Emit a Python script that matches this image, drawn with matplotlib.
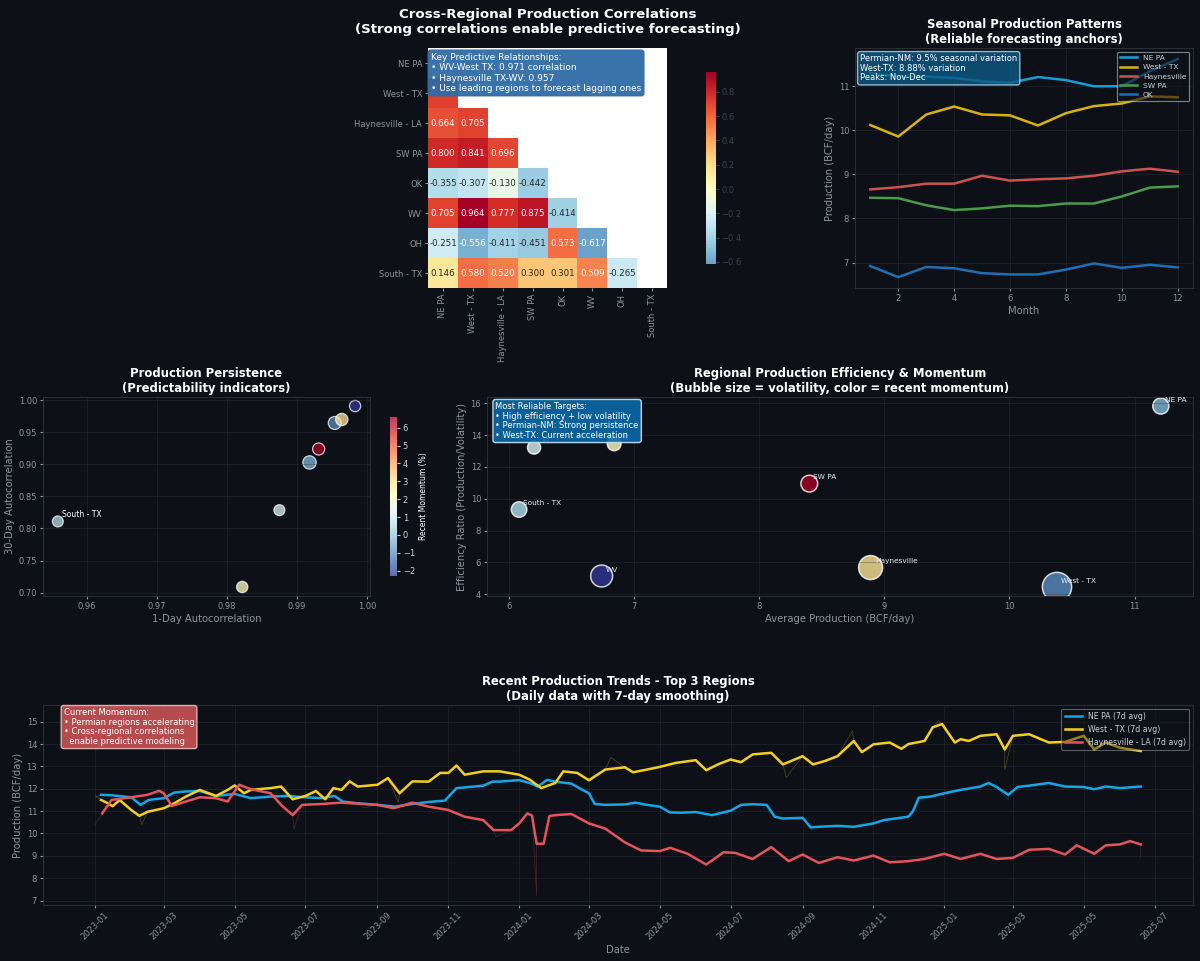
import numpy as np
import pandas as pd
import matplotlib
matplotlib.use('Agg')
import matplotlib.pyplot as plt
import matplotlib.dates as mdates
from matplotlib.colors import ListedColormap

# ---------------- data ----------------
regions = ['NE PA', 'West - TX', 'Haynesville - LA', 'SW PA', 'OK', 'WV', 'OH', 'South - TX']
corr_lower = [
    [],
    [0.721],
    [0.664, 0.705],
    [0.800, 0.841, 0.696],
    [-0.355, -0.307, -0.130, -0.442],
    [0.705, 0.964, 0.777, 0.875, -0.414],
    [-0.251, -0.556, -0.411, -0.451, 0.573, -0.617],
    [0.146, 0.580, 0.520, 0.300, 0.301, 0.509, -0.265],
]

months = list(range(1, 13))
season_nepa = [11.30, 11.22, 11.22, 11.19, 11.11, 11.08, 11.21, 11.14, 11.00, 11.00, 11.34, 11.62]
season_wtx = [10.12, 9.86, 10.36, 10.54, 10.36, 10.34, 10.11, 10.39, 10.55, 10.61, 10.77, 10.75]
season_hay = [8.66, 8.71, 8.79, 8.79, 8.97, 8.86, 8.89, 8.91, 8.97, 9.07, 9.13, 9.06]
season_swpa = [8.47, 8.46, 8.30, 8.19, 8.23, 8.29, 8.28, 8.34, 8.34, 8.50, 8.70, 8.73]
season_ok = [6.92, 6.67, 6.90, 6.87, 6.76, 6.73, 6.73, 6.84, 6.98, 6.88, 6.95, 6.89]

# per region, same order as regions
ac_1day = [0.9918, 0.9954, 0.9964, 0.9931, 0.9822, 0.9983, 0.9875, 0.9559]
ac_30day = [0.903, 0.9646, 0.970, 0.924, 0.7088, 0.991, 0.8286, 0.811]
momentum = [-0.3, -1.0, 2.9, 6.6, 2.2, -2.3, 1.2, 0.5]
avg_prod = [11.21, 10.38, 8.89, 8.40, 6.84, 6.74, 6.20, 6.08]
eff_ratio = [15.83, 4.45, 5.67, 10.95, 13.45, 5.14, 13.22, 9.32]
eff_labels = ['NE PA', 'West - TX', 'Haynesville', 'SW PA', 'OK', 'WV', 'OH', 'South - TX']

nepa_7d = [
    ('2023-01-06', 11.73), ('2023-01-15', 11.71), ('2023-02-01', 11.62), ('2023-02-09', 11.28),
    ('2023-02-16', 11.50), ('2023-03-01', 11.58), ('2023-03-10', 11.83), ('2023-03-20', 11.88),
    ('2023-04-01', 11.90), ('2023-04-15', 11.68), ('2023-05-01', 11.77), ('2023-05-15', 11.58),
    ('2023-06-01', 11.65), ('2023-06-15', 11.68), ('2023-07-01', 11.62), ('2023-07-15', 11.58),
    ('2023-07-26', 11.68), ('2023-08-02', 11.43), ('2023-08-15', 11.35), ('2023-09-01', 11.28),
    ('2023-09-16', 11.20), ('2023-10-01', 11.32), ('2023-10-15', 11.41), ('2023-10-29', 11.47),
    ('2023-11-08', 12.03), ('2023-11-15', 12.06), ('2023-12-01', 12.14), ('2023-12-09', 12.32),
    ('2023-12-15', 12.32), ('2024-01-01', 12.39), ('2024-01-10', 12.26), ('2024-01-17', 12.10),
    ('2024-01-25', 12.40), ('2024-02-01', 12.32), ('2024-02-15', 12.23), ('2024-02-22', 12.02),
    ('2024-03-01', 11.80), ('2024-03-06', 11.32), ('2024-03-15', 11.28), ('2024-04-01', 11.30),
    ('2024-04-10', 11.38), ('2024-04-20', 11.28), ('2024-05-01', 11.20), ('2024-05-10', 10.94),
    ('2024-05-20', 10.93), ('2024-06-01', 10.96), ('2024-06-15', 10.82), ('2024-07-01', 11.02),
    ('2024-07-10', 11.28), ('2024-07-20', 11.31), ('2024-08-01', 11.28), ('2024-08-08', 10.75),
    ('2024-08-15', 10.67), ('2024-09-01', 10.70), ('2024-09-08', 10.27), ('2024-09-15', 10.30),
    ('2024-10-01', 10.34), ('2024-10-15', 10.30), ('2024-11-01', 10.45), ('2024-11-10', 10.60),
    ('2024-11-20', 10.67), ('2024-12-01', 10.75), ('2024-12-05', 11.00), ('2024-12-10', 11.60),
    ('2024-12-20', 11.65), ('2025-01-01', 11.80), ('2025-01-15', 11.95), ('2025-02-01', 12.10),
    ('2025-02-08', 12.26), ('2025-02-15', 12.08), ('2025-02-25', 11.73), ('2025-03-05', 12.08),
    ('2025-03-15', 12.14), ('2025-04-01', 12.26), ('2025-04-15', 12.10), ('2025-05-01', 12.08),
    ('2025-05-10', 11.98), ('2025-05-20', 12.10), ('2025-06-01', 12.03), ('2025-06-19', 12.10),
]
wtx_7d = [
    ('2023-01-06', 11.50), ('2023-01-12', 11.35), ('2023-01-16', 11.22), ('2023-01-22', 11.50),
    ('2023-02-01', 11.05), ('2023-02-08', 10.79), ('2023-02-15', 10.97), ('2023-03-01', 11.13),
    ('2023-03-10', 11.35), ('2023-03-20', 11.65), ('2023-04-01', 11.95), ('2023-04-15', 11.68),
    ('2023-04-25', 11.95), ('2023-05-01', 12.15), ('2023-05-09', 11.80), ('2023-05-15', 11.95),
    ('2023-06-01', 12.03), ('2023-06-10', 12.10), ('2023-06-20', 11.53), ('2023-07-01', 11.68),
    ('2023-07-10', 11.90), ('2023-07-18', 11.53), ('2023-07-25', 12.03), ('2023-08-01', 11.95),
    ('2023-08-08', 12.33), ('2023-08-15', 12.10), ('2023-09-01', 12.18), ('2023-09-10', 12.48),
    ('2023-09-20', 11.80), ('2023-10-01', 12.33), ('2023-10-15', 12.32), ('2023-10-25', 12.71),
    ('2023-11-01', 12.71), ('2023-11-08', 13.04), ('2023-11-15', 12.63), ('2023-12-01', 12.78),
    ('2023-12-15', 12.78), ('2024-01-01', 12.63), ('2024-01-10', 12.41), ('2024-01-20', 12.03),
    ('2024-02-01', 12.26), ('2024-02-08', 12.78), ('2024-02-20', 12.71), ('2024-03-01', 12.38),
    ('2024-03-15', 12.86), ('2024-04-01', 12.96), ('2024-04-08', 12.74), ('2024-04-20', 12.86),
    ('2024-05-01', 12.98), ('2024-05-15', 13.16), ('2024-06-01', 13.28), ('2024-06-10', 12.83),
    ('2024-06-20', 13.09), ('2024-07-01', 13.31), ('2024-07-10', 13.19), ('2024-07-20', 13.54),
    ('2024-08-05', 13.61), ('2024-08-15', 13.09), ('2024-09-01', 13.46), ('2024-09-10', 13.09),
    ('2024-09-20', 13.24), ('2024-10-01', 13.46), ('2024-10-15', 14.14), ('2024-10-22', 13.64),
    ('2024-11-01', 13.99), ('2024-11-15', 14.07), ('2024-11-25', 13.79), ('2024-12-01', 14.00),
    ('2024-12-15', 14.14), ('2024-12-22', 14.75), ('2024-12-30', 14.90), ('2025-01-10', 14.07),
    ('2025-01-15', 14.22), ('2025-01-22', 14.14), ('2025-02-01', 14.37), ('2025-02-15', 14.44),
    ('2025-02-22', 13.76), ('2025-03-01', 14.37), ('2025-03-15', 14.44), ('2025-04-01', 14.07),
    ('2025-04-15', 14.10), ('2025-05-01', 14.37), ('2025-05-10', 13.76), ('2025-05-20', 14.07),
    ('2025-06-01', 13.84), ('2025-06-19', 13.69),
]
hay_7d = [
    ('2023-01-07', 10.90), ('2023-01-15', 11.50), ('2023-02-01', 11.62), ('2023-02-15', 11.73),
    ('2023-02-25', 11.91), ('2023-03-01', 11.80), ('2023-03-08', 11.23), ('2023-03-20', 11.43),
    ('2023-04-01', 11.62), ('2023-04-15', 11.58), ('2023-04-25', 11.43), ('2023-05-05', 12.18),
    ('2023-05-15', 11.98), ('2023-06-01', 11.80), ('2023-06-10', 11.28), ('2023-06-20', 10.82),
    ('2023-06-28', 11.28), ('2023-07-15', 11.32), ('2023-08-01', 11.38), ('2023-09-01', 11.28),
    ('2023-09-15', 11.13), ('2023-10-01', 11.38), ('2023-10-15', 11.20), ('2023-11-01', 11.05),
    ('2023-11-15', 10.75), ('2023-12-01', 10.60), ('2023-12-10', 10.15), ('2023-12-25', 10.15),
    ('2024-01-01', 10.45), ('2024-01-08', 10.90), ('2024-01-12', 10.80), ('2024-01-16', 9.54),
    ('2024-01-22', 9.54), ('2024-01-27', 10.78), ('2024-02-01', 10.82), ('2024-02-15', 10.87),
    ('2024-03-01', 10.45), ('2024-03-15', 10.22), ('2024-04-01', 9.60), ('2024-04-15', 9.24),
    ('2024-05-01', 9.21), ('2024-05-10', 9.36), ('2024-05-25', 9.09), ('2024-06-10', 8.61),
    ('2024-06-25', 9.16), ('2024-07-05', 9.13), ('2024-07-20', 8.86), ('2024-08-05', 9.39),
    ('2024-08-20', 8.76), ('2024-09-01', 9.06), ('2024-09-15', 8.68), ('2024-10-01', 8.94),
    ('2024-10-15', 8.79), ('2024-11-01', 9.01), ('2024-11-15', 8.71), ('2024-12-01', 8.76),
    ('2024-12-15', 8.86), ('2025-01-01', 9.09), ('2025-01-15', 8.86), ('2025-02-01', 9.09),
    ('2025-02-15', 8.86), ('2025-03-01', 8.91), ('2025-03-15', 9.27), ('2025-04-01', 9.31),
    ('2025-04-15', 9.06), ('2025-04-25', 9.47), ('2025-05-10', 9.09), ('2025-05-20', 9.47),
    ('2025-06-01', 9.51), ('2025-06-10', 9.66), ('2025-06-19', 9.51),
]
# visible spikes in the thin daily lines
nepa_spikes = [('2023-01-01', 11.60), ('2023-08-20', 11.15), ('2025-02-25', 11.50)]
wtx_spikes = [('2023-01-01', 11.70), ('2023-02-10', 10.40), ('2023-09-19', 11.40), ('2024-03-20', 13.40),
              ('2024-08-18', 12.50), ('2024-10-14', 14.60), ('2024-12-27', 15.05), ('2025-02-22', 12.85)]
hay_spikes = [('2023-01-01', 10.40), ('2023-06-21', 10.20), ('2023-12-12', 9.85), ('2024-01-16', 7.20),
              ('2025-06-19', 8.90)]

# ---------------- style ----------------
bg = '#0d1117'
grey = '#8b949e'
plt.rcParams.update({
    'figure.facecolor': bg, 'axes.facecolor': bg, 'axes.edgecolor': '#30363d',
    'axes.labelcolor': grey, 'xtick.color': grey, 'ytick.color': grey,
    'text.color': 'white', 'grid.color': '#30363d', 'font.size': 6,
    'xtick.labelsize': 6, 'ytick.labelsize': 6, 'axes.labelsize': 7.2,
    'axes.titlesize': 8.4, 'axes.titleweight': 'bold', 'axes.titlecolor': 'white',
    'axes.titlepad': 3.6, 'axes.labelpad': 2.4, 'axes.linewidth': 0.6,
    'xtick.major.size': 2.1, 'ytick.major.size': 2.1,
    'xtick.major.pad': 2.1, 'ytick.major.pad': 2.1,
})

fig = plt.figure(figsize=(12, 9.61), dpi=100)

# ---------------- correlation heatmap ----------------
ax1 = fig.add_axes([0.3567, 0.7003, 0.1992, 0.2497])
cax1 = fig.add_axes([0.5883, 0.7253, 0.0083, 0.1998])
n = len(regions)
corr = np.eye(n)
for i, row in enumerate(corr_lower):
    for j, v in enumerate(row):
        corr[i, j] = v
        corr[j, i] = v
mask = np.triu(np.ones_like(corr, dtype=bool))
vals = corr[~mask]
vmin, vmax = vals.min(), vals.max()
vr = max(abs(vmin), abs(vmax))
base = plt.get_cmap('RdYlBu_r')
cmap = ListedColormap(base(np.linspace((vmin + vr) / (2 * vr), (vmax + vr) / (2 * vr), 256)))
mesh = ax1.pcolormesh(np.ma.masked_array(corr, mask), cmap=cmap, vmin=vmin, vmax=vmax)
ax1.set_facecolor('white')
ax1.set_xlim(0, n)
ax1.set_ylim(n, 0)


def lum(c):
    rgb = np.array(c[:3])
    rgb = np.where(rgb <= 0.03928, rgb / 12.92, ((rgb + 0.055) / 1.055) ** 2.4)
    return 0.2126 * rgb[0] + 0.7152 * rgb[1] + 0.0722 * rgb[2]


for i in range(n):
    for j in range(n):
        if mask[i, j]:
            continue
        c = cmap((corr[i, j] - vmin) / (vmax - vmin))
        ax1.text(j + 0.5, i + 0.5, f'{corr[i, j]:.3f}', ha='center', va='center', fontsize=6.2,
                 color='#262626' if lum(c) > 0.408 else 'white')
ax1.set_xticks(np.arange(n) + 0.5)
ax1.set_yticks(np.arange(n) + 0.5)
ax1.set_xticklabels(regions, rotation=90)
ax1.set_yticklabels(regions)
for s in ax1.spines.values():
    s.set_visible(False)
ax1.set_title('Cross-Regional Production Correlations\n(Strong correlations enable predictive forecasting)',
              fontsize=9.6, pad=11)
cb1 = fig.colorbar(mesh, cax=cax1)
cb1.outline.set_visible(False)
cax1.tick_params(colors='#3a414a', labelsize=6, length=2)
ax1.text(0.012, 0.98, 'Key Predictive Relationships:\n• WV-West TX: 0.971 correlation\n'
         '• Haynesville TX-WV: 0.957\n• Use leading regions to forecast lagging ones',
         transform=ax1.transAxes, va='top', ha='left', fontsize=6.5, color='white', linespacing=1.2,
         zorder=5, bbox=dict(boxstyle='round,pad=0.3', facecolor='#2f6aa6', edgecolor='#2f6aa6', alpha=0.95))

# ---------------- seasonal patterns ----------------
ax2 = fig.add_axes([0.7125, 0.7003, 0.2817, 0.2497])
ax2.plot(months, season_nepa, color='#1a9cd8', lw=1.8, label='NE PA')
ax2.plot(months, season_wtx, color='#d9b20f', lw=1.8, label='West - TX')
ax2.plot(months, season_hay, color='#cd5252', lw=1.8, label='Haynesville')
ax2.plot(months, season_swpa, color='#4a9c4a', lw=1.8, label='SW PA')
ax2.plot(months, season_ok, color='#1f6fb4', lw=1.8, label='OK')
ax2.set_title('Seasonal Production Patterns\n(Reliable forecasting anchors)')
ax2.set_xlabel('Month')
ax2.set_ylabel('Production (BCF/day)')
ax2.grid(True, alpha=0.5, lw=0.5)
leg2 = ax2.legend(loc='upper right', fontsize=5.4, facecolor=bg, edgecolor='#c9d1d9',
                  labelcolor='#c9d1d9', framealpha=0.6, handlelength=2.2, labelspacing=0.4)
leg2.get_frame().set_linewidth(0.8)
ax2.text(0.015, 0.975, 'Permian-NM: 9.5% seasonal variation\nWest-TX: 8.88% variation\nPeaks: Nov-Dec',
         transform=ax2.transAxes, va='top', ha='left', fontsize=6, color='white', linespacing=1.1,
         bbox=dict(boxstyle='round,pad=0.3', facecolor='#0d5a85', edgecolor='#b8d8ea', alpha=0.8))

# ---------------- persistence ----------------
ax3 = fig.add_axes([0.0358, 0.3798, 0.2725, 0.2071])
cax3 = fig.add_axes([0.325, 0.4006, 0.0058, 0.1655])
cax3.set_facecolor('white')
sizes3 = [25 + 6 * p for p in avg_prod]
sc3 = ax3.scatter(ac_1day, ac_30day, s=sizes3, c=momentum, cmap='RdYlBu_r', alpha=0.75,
                  edgecolors='white', linewidths=0.9)
for k in range(n):
    if ac_1day[k] < 0.97:
        ax3.annotate(regions[k], (ac_1day[k], ac_30day[k]), xytext=(3, 3), textcoords='offset points',
                     fontsize=5.5, color='white')
ax3.set_title('Production Persistence\n(Predictability indicators)')
ax3.set_xlabel('1-Day Autocorrelation')
ax3.set_ylabel('30-Day Autocorrelation')
ax3.grid(True, alpha=0.5, lw=0.5)
cb3 = fig.colorbar(sc3, cax=cax3)
cb3.outline.set_visible(False)
cax3.tick_params(colors='#c9d1d9', labelsize=6, length=2)
cb3.set_label('Recent Momentum (%)', color='white', fontsize=5.5, labelpad=3)

# ---------------- efficiency bubbles ----------------
ax4 = fig.add_axes([0.4058, 0.3798, 0.5883, 0.2071])
volatility = [a / e for a, e in zip(avg_prod, eff_ratio)]
ax4.scatter(avg_prod, eff_ratio, s=[v * 190 for v in volatility], c=momentum, cmap='RdYlBu_r',
            alpha=0.8, edgecolors='white', linewidths=1.1)
for k in range(n):
    ax4.annotate(eff_labels[k], (avg_prod[k], eff_ratio[k]), xytext=(3, 3), textcoords='offset points',
                 fontsize=5.3, color='#e6edf3')
ax4.set_title('Regional Production Efficiency & Momentum\n(Bubble size = volatility, color = recent momentum)')
ax4.set_xlabel('Average Production (BCF/day)')
ax4.set_ylabel('Efficiency Ratio (Production/Volatility)')
ax4.grid(True, alpha=0.5, lw=0.5)
ax4.text(0.012, 0.975, 'Most Reliable Targets:\n• High efficiency + low volatility\n'
         '• Permian-NM: Strong persistence\n• West-TX: Current acceleration',
         transform=ax4.transAxes, va='top', ha='left', fontsize=6, color='white', linespacing=1.1,
         zorder=5, bbox=dict(boxstyle='round,pad=0.3', facecolor='#0a68a8', edgecolor='#d0e4f0', alpha=0.9))

# ---------------- recent trends ----------------
ax5 = fig.add_axes([0.0358, 0.0583, 0.9583, 0.2081])


def series(pairs):
    return pd.Series([v for d, v in pairs], index=pd.to_datetime([d for d, v in pairs])).sort_index()


trend_sets = [
    (nepa_7d, nepa_spikes, '#14a6e6', 'NE PA (7d avg)'),
    (wtx_7d, wtx_spikes, '#f5cf1f', 'West - TX (7d avg)'),
    (hay_7d, hay_spikes, '#e5535d', 'Haynesville - LA (7d avg)'),
]
for smooth, spikes, col, lab in trend_sets:
    sm = series(smooth)
    raw = pd.concat([sm, series(spikes)]).sort_index()
    ax5.plot(raw.index, raw.values, color=col, lw=0.5, alpha=0.3)
    ax5.plot(sm.index, sm.values, color=col, lw=1.8, label=lab)
ax5.set_ylim(6.8, 15.75)
ax5.xaxis.set_major_locator(mdates.MonthLocator(bymonth=[1, 3, 5, 7, 9, 11]))
ax5.xaxis.set_major_formatter(mdates.DateFormatter('%Y-%m'))
plt.setp(ax5.get_xticklabels(), rotation=45)
ax5.set_title('Recent Production Trends - Top 3 Regions\n(Daily data with 7-day smoothing)')
ax5.set_xlabel('Date')
ax5.set_ylabel('Production (BCF/day)')
ax5.grid(True, alpha=0.5, lw=0.5)
leg5 = ax5.legend(loc='upper right', fontsize=5.6, facecolor=bg, edgecolor='#c9d1d9',
                  labelcolor='#c9d1d9', framealpha=0.4, handlelength=2.2)
leg5.get_frame().set_linewidth(0.8)
ax5.text(0.018, 0.985, 'Current Momentum:\n• Permian regions accelerating\n'
         '• Cross-regional correlations\n  enable predictive modeling',
         transform=ax5.transAxes, va='top', ha='left', fontsize=6, color='white', linespacing=1.1,
         bbox=dict(boxstyle='round,pad=0.3', facecolor='#e05a5a', edgecolor='#f0d0d0', alpha=0.8))

plt.savefig('out.png', dpi=100, facecolor=bg)
